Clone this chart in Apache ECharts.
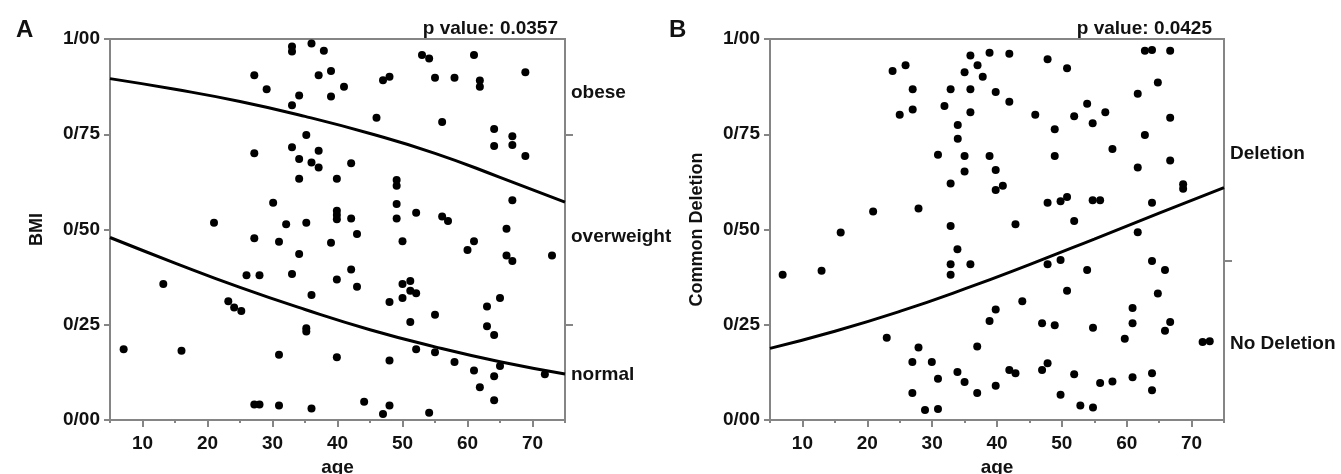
<!DOCTYPE html>
<html>
<head>
<meta charset="utf-8">
<script src="https://cdn.jsdelivr.net/npm/echarts@6/dist/echarts.min.js"></script>
<style>
  html, body { margin: 0; padding: 0; background: #fff; }
  #chart { width: 1341px; height: 474px; }
</style>
</head>
<body>
<div id="chart"></div>
<script>
// panel A: age vs BMI category score
var bmiAge = [33.0, 33.0, 36.0, 37.9, 27.2, 37.1, 39.0, 29.1, 34.1, 39.0, 33.0, 35.2, 27.2, 33.0, 37.1, 34.1, 36.0, 37.1, 34.1, 39.9,
  30.1, 39.9, 39.9, 39.9, 21.0, 32.1, 35.2, 41.0, 53.0, 54.1, 61.0, 47.0, 48.0, 55.0, 58.0, 61.9, 61.9, 68.9, 46.0, 56.1,
  64.1, 64.1, 66.9, 66.9, 68.9, 42.1, 49.1, 49.1, 49.1, 66.9, 42.1, 49.1, 52.1, 56.1, 57.0, 66.0, 43.0, 27.2, 31.0, 39.0,
  34.1, 13.2, 26.0, 28.0, 33.0, 39.9, 36.0, 23.2, 24.1, 25.2, 35.2, 35.2, 7.1, 16.0, 31.0, 39.9, 27.2, 28.0, 31.0, 36.0,
  50.0, 60.0, 61.0, 66.0, 66.9, 73.0, 42.1, 43.0, 50.0, 51.2, 51.2, 52.1, 50.0, 48.0, 65.0, 63.0, 55.0, 51.2, 63.0, 64.1,
  52.1, 55.0, 58.0, 48.0, 61.0, 65.0, 64.1, 71.9, 61.9, 64.1, 44.1, 48.0, 47.0, 54.1];
var bmiScore = [0.980, 0.967, 0.988, 0.969, 0.905, 0.905, 0.916, 0.868, 0.852, 0.849, 0.826, 0.748, 0.700, 0.716, 0.707, 0.685, 0.676, 0.663, 0.633, 0.633,
  0.570, 0.549, 0.538, 0.527, 0.518, 0.514, 0.518, 0.875, 0.958, 0.949, 0.958, 0.892, 0.901, 0.898, 0.898, 0.891, 0.875, 0.913, 0.793, 0.782,
  0.764, 0.719, 0.745, 0.722, 0.693, 0.674, 0.630, 0.615, 0.567, 0.577, 0.529, 0.529, 0.544, 0.534, 0.522, 0.502, 0.488, 0.477, 0.468, 0.465,
  0.436, 0.357, 0.380, 0.380, 0.383, 0.369, 0.328, 0.312, 0.295, 0.286, 0.241, 0.232, 0.186, 0.182, 0.171, 0.165, 0.041, 0.041, 0.038, 0.030,
  0.469, 0.446, 0.469, 0.432, 0.417, 0.432, 0.395, 0.350, 0.357, 0.365, 0.339, 0.333, 0.320, 0.310, 0.320, 0.298, 0.276, 0.257, 0.246, 0.223,
  0.186, 0.178, 0.152, 0.156, 0.130, 0.142, 0.115, 0.120, 0.086, 0.052, 0.048, 0.038, 0.016, 0.019];

// panel B: age vs common deletion score
var delAge = [23.9, 25.9, 27.0, 25.0, 27.0, 35.9, 38.85, 37.0, 35.0, 37.8, 32.85, 35.9, 39.8, 31.9, 35.9, 33.95, 33.95, 30.9, 35.0, 38.85,
  35.0, 39.8, 32.85, 39.8, 20.9, 27.9, 32.85, 15.9, 41.9, 47.8, 50.8, 41.9, 45.9, 48.9, 48.9, 51.9, 53.9, 54.75, 56.7, 57.8,
  61.7, 62.8, 63.9, 66.7, 64.8, 66.7, 62.8, 61.7, 66.7, 68.7, 68.7, 40.9, 47.8, 49.8, 50.8, 54.75, 55.9, 63.9, 42.85, 51.9,
  61.7, 6.95, 12.95, 33.9, 32.85, 35.9, 32.85, 23.0, 27.9, 26.95, 29.95, 30.9, 26.95, 28.9, 30.9, 33.9, 35.0, 36.95, 36.95, 38.85,
  39.8, 39.8, 47.8, 49.8, 53.9, 63.9, 65.9, 50.8, 64.8, 43.9, 60.9, 46.95, 48.9, 54.8, 60.9, 66.7, 65.9, 59.7, 71.7, 72.8,
  41.9, 42.85, 46.95, 47.8, 51.9, 55.9, 57.8, 60.9, 63.9, 63.9, 49.8, 52.85, 54.8];
var delScore = [0.916, 0.931, 0.868, 0.801, 0.815, 0.957, 0.964, 0.931, 0.913, 0.901, 0.868, 0.868, 0.861, 0.824, 0.808, 0.774, 0.738, 0.696, 0.693, 0.693,
  0.652, 0.656, 0.621, 0.604, 0.547, 0.555, 0.509, 0.492, 0.961, 0.947, 0.923, 0.835, 0.801, 0.763, 0.693, 0.797, 0.830, 0.779, 0.808, 0.711,
  0.856, 0.969, 0.971, 0.969, 0.886, 0.793, 0.748, 0.663, 0.681, 0.619, 0.607, 0.615, 0.570, 0.574, 0.585, 0.577, 0.577, 0.570, 0.514, 0.522,
  0.493, 0.381, 0.392, 0.448, 0.409, 0.409, 0.381, 0.216, 0.190, 0.152, 0.152, 0.108, 0.071, 0.026, 0.029, 0.126, 0.100, 0.193, 0.071, 0.260,
  0.290, 0.090, 0.409, 0.420, 0.394, 0.417, 0.394, 0.339, 0.332, 0.312, 0.294, 0.254, 0.249, 0.242, 0.254, 0.257, 0.234, 0.213, 0.205, 0.207,
  0.131, 0.123, 0.131, 0.149, 0.120, 0.097, 0.101, 0.112, 0.123, 0.078, 0.066, 0.038, 0.033];

// fitted curves
var curveAge = [5, 15, 25, 35, 45, 55, 65, 75];
var bmiUpperCurve = [0.896, 0.868, 0.836, 0.797, 0.752, 0.700, 0.637, 0.572];
var bmiLowerCurve = [0.479, 0.412, 0.348, 0.290, 0.237, 0.192, 0.153, 0.121];
var delCurve = [0.188, 0.233, 0.285, 0.344, 0.408, 0.475, 0.543, 0.610];

// axis ticks / side labels
var ageTicks = [10, 20, 30, 40, 50, 60, 70];
var ageMinorTicks = [5, 15, 25, 35, 45, 55, 65, 75];
var bmiCats = ['normal', 'overweight', 'obese'];
var bmiCatPos = [0.12, 0.48, 0.86];
var bmiSideTicks = [0.25, 0.75];
var delCats = ['No Deletion', 'Deletion'];
var delCatPos = [0.20, 0.70];
var delSideTicks = [0.417];
var pValues = ['0.0357', '0.0425'];

var FONT = 'Liberation Sans';
var GRAY = '#858585';
var FS = 19;

function pairs(xs, ys) {
  return xs.map(function (x, i) { return [x, ys[i]]; });
}

function xAxes(grid) {
  return [{
    gridIndex: grid, type: 'value', min: 5, max: 75, interval: 5,
    name: 'age', nameLocation: 'middle', nameGap: 37,
    nameTextStyle: { fontFamily: FONT, fontWeight: 'bold', fontSize: FS, color: '#111' },
    axisLine: { show: true, lineStyle: { color: GRAY, width: 2 } },
    axisTick: { show: true, customValues: ageTicks, length: 7, lineStyle: { color: GRAY, width: 2 } },
    axisLabel: { customValues: ageTicks, margin: 14, fontFamily: FONT, fontWeight: 'bold', fontSize: FS, color: '#111' },
    splitLine: { show: false }
  }, {
    gridIndex: grid, type: 'value', min: 5, max: 75, interval: 5, position: 'bottom',
    axisLine: { show: false },
    axisTick: { show: true, customValues: ageMinorTicks, length: 3, lineStyle: { color: GRAY, width: 2 } },
    axisLabel: { show: false },
    splitLine: { show: false }
  }];
}

function yAxes(grid, title, cats, catPos, sideTicks) {
  return [{
    gridIndex: grid, type: 'value', min: 0, max: 1, interval: 0.25,
    name: title, nameLocation: 'middle', nameGap: 64, nameRotate: 90,
    nameTextStyle: { fontFamily: FONT, fontWeight: 'bold', fontSize: FS - 1, color: '#111' },
    axisLine: { show: true, lineStyle: { color: GRAY, width: 2 } },
    axisTick: { show: true, length: 6, lineStyle: { color: GRAY, width: 2 } },
    axisLabel: {
      margin: 10, fontFamily: FONT, fontWeight: 'bold', fontSize: FS, color: '#111',
      formatter: function (v) { return v.toFixed(2).replace('.', '/'); }
    },
    splitLine: { show: false }
  }, {
    gridIndex: grid, type: 'value', min: 0, max: 1, position: 'right',
    axisLine: { show: true, lineStyle: { color: GRAY, width: 2 } },
    axisTick: { show: true, customValues: sideTicks, length: 8, lineStyle: { color: GRAY, width: 2 } },
    axisLabel: {
      customValues: catPos, margin: 6, fontFamily: FONT, fontWeight: 'bold', fontSize: FS, color: '#111',
      formatter: function (v) { return cats[catPos.indexOf(v)]; }
    },
    splitLine: { show: false }
  }];
}

var lineStyle = { color: '#000', width: 3 };
var dotStyle = { color: '#000', opacity: 1 };

var option = {
  animation: false,
  backgroundColor: '#fff',
  textStyle: { fontFamily: FONT },
  title: [
    { text: 'A', left: 11, top: 13, textStyle: { fontFamily: FONT, fontWeight: 'bold', fontSize: 24, color: '#111' } },
    { text: 'B', left: 664, top: 13, textStyle: { fontFamily: FONT, fontWeight: 'bold', fontSize: 24, color: '#111' } },
    { text: 'p value: ' + pValues[0], right: 1341 - 563, top: 14, textStyle: { fontFamily: FONT, fontWeight: 'bold', fontSize: FS, color: '#111' } },
    { text: 'p value: ' + pValues[1], right: 1341 - 1217, top: 14, textStyle: { fontFamily: FONT, fontWeight: 'bold', fontSize: FS, color: '#111' } }
  ],
  grid: [
    { left: 110, top: 39, width: 455, height: 381, outerBoundsMode: 'none', show: true, borderColor: GRAY, borderWidth: 2 },
    { left: 770, top: 39, width: 454, height: 381, outerBoundsMode: 'none', show: true, borderColor: GRAY, borderWidth: 2 }
  ],
  xAxis: xAxes(0).concat(xAxes(1)),
  yAxis: yAxes(0, 'BMI', bmiCats, bmiCatPos, bmiSideTicks)
    .concat(yAxes(1, 'Common Deletion', delCats, delCatPos, delSideTicks)),
  series: [
    { type: 'scatter', xAxisIndex: 0, yAxisIndex: 0, symbolSize: 8, itemStyle: dotStyle, data: pairs(bmiAge, bmiScore) },
    { type: 'line', xAxisIndex: 0, yAxisIndex: 0, smooth: true, showSymbol: false, lineStyle: lineStyle, data: pairs(curveAge, bmiUpperCurve) },
    { type: 'line', xAxisIndex: 0, yAxisIndex: 0, smooth: true, showSymbol: false, lineStyle: lineStyle, data: pairs(curveAge, bmiLowerCurve) },
    { type: 'scatter', xAxisIndex: 2, yAxisIndex: 2, symbolSize: 8, itemStyle: dotStyle, data: pairs(delAge, delScore) },
    { type: 'line', xAxisIndex: 2, yAxisIndex: 2, smooth: true, showSymbol: false, lineStyle: lineStyle, data: pairs(curveAge, delCurve) }
  ]
};

var myChart = echarts.init(document.getElementById('chart'));
myChart.setOption(option);
</script>
</body>
</html>
